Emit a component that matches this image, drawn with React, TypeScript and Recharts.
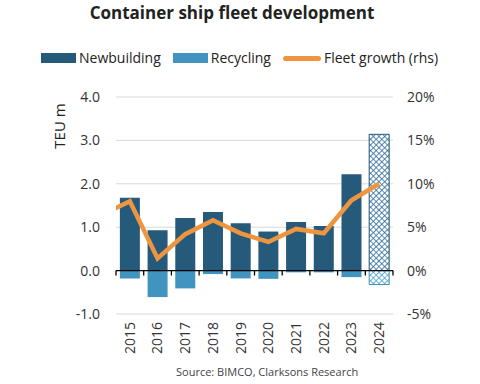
import React from "react";
import {
  ComposedChart,
  Bar,
  Line,
  Cell,
  XAxis,
  YAxis,
  CartesianGrid,
  ReferenceLine,
} from "recharts";

// Data
const years = ["2015", "2016", "2017", "2018", "2019", "2020", "2021", "2022", "2023", "2024"];
const newbuilding = [1.68, 0.93, 1.21, 1.35, 1.09, 0.9, 1.12, 1.03, 2.22, 3.14];
const recycling = [-0.18, -0.61, -0.41, -0.08, -0.18, -0.19, -0.04, -0.04, -0.15, -0.32];
// Fleet growth (%), the line enters from a 2014 point that is cut off at the left edge
const growthYears = [2014, 2015, 2016, 2017, 2018, 2019, 2020, 2021, 2022, 2023, 2024];
const fleetGrowth = [6.4, 8.0, 1.4, 4.2, 5.8, 4.3, 3.3, 4.8, 4.3, 8.1, 10.0];
const forecastYear = "2024";

const leftTicks = [-1, 0, 1, 2, 3, 4];
const rightTicks = [-5, 0, 5, 10, 15, 20];

const NEW_COLOR = "#255a7b";
const REC_COLOR = "#4193c0";
const GROWTH_COLOR = "#ef9540";
const FONT = "'Open Sans', sans-serif";

const barData = years.map((year, i) => ({
  year,
  newbuilding: newbuilding[i],
  recycling: recycling[i],
}));
const lineData = growthYears.map((year, i) => ({ x: year, growth: fleetGrowth[i] }));

function YearTick({ x, y, payload }: any) {
  return (
    <g transform={`translate(${x},${y})`}>
      <text textAnchor="end" transform="rotate(-90)" dy="0.35em" fontSize={14} fill="#333" fontFamily={FONT}>
        {payload.value}
      </text>
    </g>
  );
}

// zero line with little tick marks between the categories, like an Excel axis crossing at 0
function ZeroAxis(props: any) {
  const x1 = Number(props.x1);
  const x2 = Number(props.x2);
  const y = Number(props.y1);
  const step = (x2 - x1) / years.length;
  const marks = Array.from({ length: years.length + 1 }, (_, i) => x1 + i * step);
  return (
    <g>
      <path
        d={`M${x1},${y}H${x2}` + marks.map((mx) => `M${mx},${y}V${y + 5}`).join("")}
        stroke="#000"
        strokeWidth={1.3}
        fill="none"
      />
    </g>
  );
}

function LegendItem({ swatch, label }: { swatch: React.ReactNode; label: string }) {
  return (
    <div style={{ display: "flex", alignItems: "center", marginRight: 12 }}>
      {swatch}
      <span style={{ marginLeft: 3 }}>{label}</span>
    </div>
  );
}

export default function App() {
  return (
    <div
      style={{
        position: "absolute",
        left: 0,
        top: 0,
        width: 480,
        height: 384,
        background: "#fff",
        fontFamily: FONT,
        color: "#222",
      }}
    >
      <div style={{ position: "absolute", left: 0, top: 0, width: 464, textAlign: "center", fontSize: 17, fontWeight: 700, lineHeight: "26px" }}>
        Container ship fleet development
      </div>

      {/* Legend */}
      <div style={{ position: "absolute", left: 41, top: 48, display: "flex", fontSize: 14, lineHeight: "20px" }}>
        <LegendItem swatch={<span style={{ width: 35, height: 10, background: NEW_COLOR }} />} label="Newbuilding" />
        <LegendItem swatch={<span style={{ width: 35, height: 10, background: REC_COLOR }} />} label="Recycling" />
        <LegendItem
          swatch={<span style={{ width: 38, height: 5, borderRadius: 3, background: GROWTH_COLOR }} />}
          label="Fleet growth (rhs)"
        />
      </div>

      <div
        style={{
          position: "absolute",
          left: 29,
          top: 116,
          width: 60,
          height: 20,
          lineHeight: "20px",
          textAlign: "center",
          fontSize: 15,
          transform: "rotate(-90deg)",
        }}
      >
        TEU m
      </div>

      <ComposedChart
        width={480}
        height={384}
        data={barData}
        margin={{ top: 97, right: 27, bottom: 10, left: 56 }}
        stackOffset="sign"
        barCategoryGap="14%"
      >
        <defs>
          <pattern id="hatchNew" width="4" height="4" patternUnits="userSpaceOnUse" patternTransform="rotate(45)">
            <rect width="4" height="4" fill="#ffffff" />
            <path d="M0 0H4M0 0V4" stroke="#2d6c98" strokeWidth="1.6" />
          </pattern>
          <pattern id="hatchRec" width="4" height="4" patternUnits="userSpaceOnUse" patternTransform="rotate(45)">
            <rect width="4" height="4" fill="#ffffff" />
            <path d="M0 0H4M0 0V4" stroke="#4aa0d0" strokeWidth="1.6" />
          </pattern>
        </defs>
        <CartesianGrid xAxisId="cat" yAxisId="left" vertical={false} stroke="#d9d9d9" />
        <XAxis xAxisId="cat" dataKey="year" height={60} axisLine={false} tickLine={false} interval={0} tick={<YearTick />} />
        <XAxis xAxisId="num" type="number" dataKey="x" domain={[2014.5, 2024.5]} allowDataOverflow hide />
        <YAxis
          yAxisId="left"
          domain={[-1, 4]}
          ticks={leftTicks}
          width={60}
          axisLine={false}
          tickLine={false}
          tickMargin={10}
          tick={{ fontSize: 14, fill: "#333", fontFamily: FONT }}
          tickFormatter={(v) => v.toFixed(1)}
        />
        <YAxis
          yAxisId="right"
          orientation="right"
          domain={[-5, 20]}
          ticks={rightTicks}
          width={60}
          axisLine={false}
          tickLine={false}
          tickMargin={8}
          tick={{ fontSize: 14, fill: "#333", fontFamily: FONT }}
          tickFormatter={(v) => `${v}%`}
        />
        <Bar xAxisId="cat" yAxisId="left" dataKey="newbuilding" stackId="a" fill={NEW_COLOR} isAnimationActive={false}>
          {barData.map((d) => (
            <Cell
              key={d.year}
              fill={d.year === forecastYear ? "url(#hatchNew)" : NEW_COLOR}
              stroke={d.year === forecastYear ? NEW_COLOR : "none"}
            />
          ))}
        </Bar>
        <Bar xAxisId="cat" yAxisId="left" dataKey="recycling" stackId="a" fill={REC_COLOR} isAnimationActive={false}>
          {barData.map((d) => (
            <Cell
              key={d.year}
              fill={d.year === forecastYear ? "url(#hatchRec)" : REC_COLOR}
              stroke={d.year === forecastYear ? REC_COLOR : "none"}
            />
          ))}
        </Bar>
        <ReferenceLine xAxisId="cat" yAxisId="left" y={0} shape={(p: any) => <ZeroAxis {...p} />} />
        <Line
          xAxisId="num"
          yAxisId="right"
          data={lineData}
          dataKey="growth"
          type="linear"
          stroke={GROWTH_COLOR}
          strokeWidth={4.5}
          dot={false}
          isAnimationActive={false}
        />
      </ComposedChart>

      <div style={{ position: "absolute", left: 176, top: 364, fontSize: 11, color: "#444", whiteSpace: "nowrap" }}>
        Source: BIMCO, Clarksons Research
      </div>
    </div>
  );
}
